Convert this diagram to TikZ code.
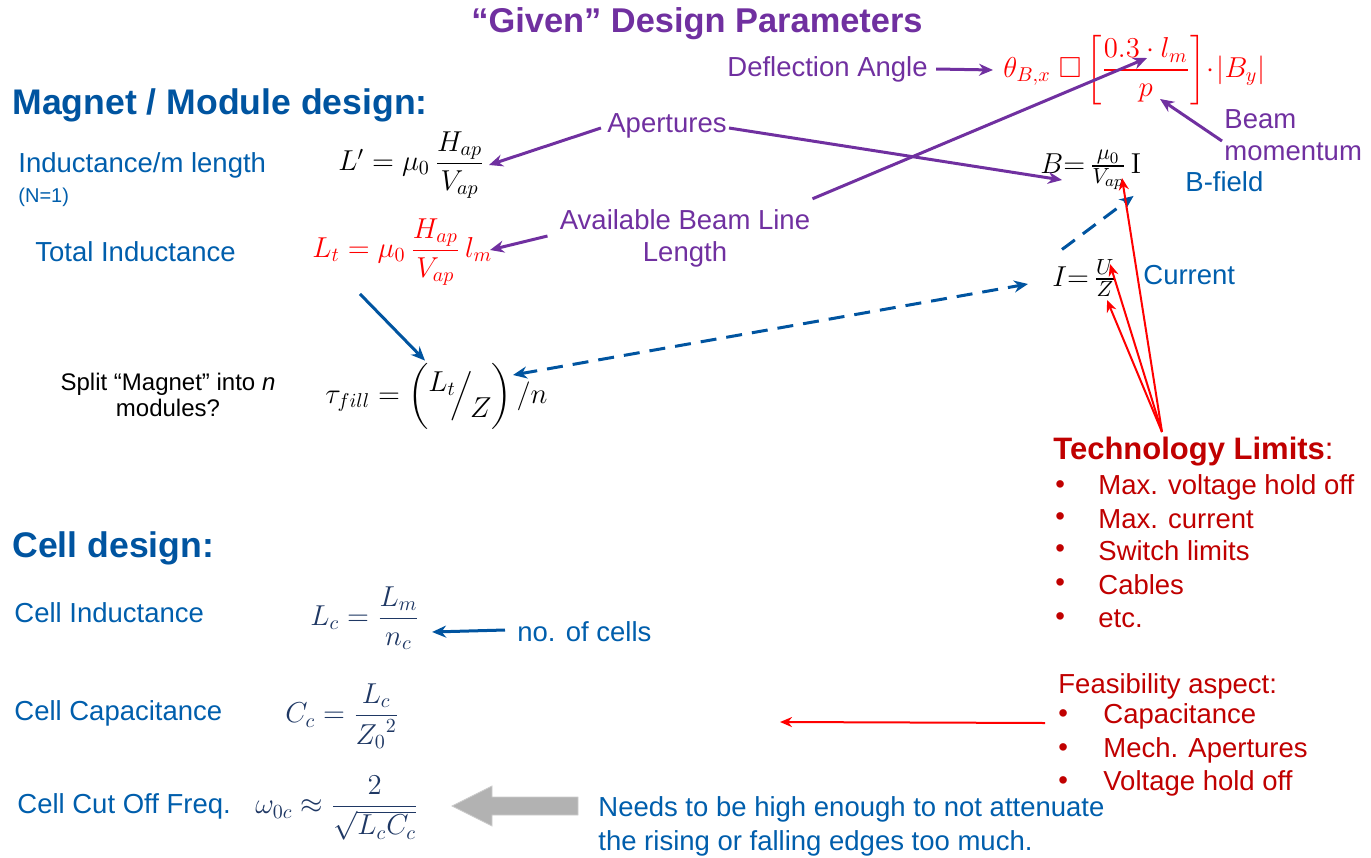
\documentclass[tikz,border=0pt]{standalone}
\usepackage{amsmath,amssymb}
\usepackage[no-math]{fontspec}
\setmainfont{Liberation Sans}
\usepackage{tikz}
\usetikzlibrary{arrows.meta,calc}

\definecolor{slideblue}{RGB}{0,94,172}
\definecolor{headblue}{RGB}{0,84,160}
\definecolor{givenpurple}{RGB}{112,48,160}
\definecolor{limitred}{RGB}{192,0,0}
\definecolor{formnavy}{RGB}{31,56,100}

\tikzset{
	txt/.style={inner sep=0pt, anchor=west, font=\fontsize{13.75}{16.5}\selectfont},
	small/.style={inner sep=0pt, anchor=west, font=\fontsize{10}{12}\selectfont},
	head/.style={inner sep=0pt, anchor=west, font=\fontsize{17.8}{21}\selectfont\bfseries, text=headblue},
	purparr/.style={-{Stealth[length=7pt,width=6pt]}, line width=1.5pt, draw=givenpurple},
	bluearr/.style={-{Stealth[length=7pt,width=6pt]}, line width=1.5pt, draw=headblue},
	dasharr/.style={{Stealth[length=7pt,width=6pt]}-{Stealth[length=7pt,width=6pt]}, line width=1.5pt, draw=headblue, dash pattern=on 8pt off 5pt},
	redarr/.style={-{Stealth[length=6pt,width=5pt]}, line width=1pt, draw=red},
}

\begin{document}
\begin{tikzpicture}[x=0.5pt,y=-0.5pt]
	\useasboundingbox (0,0) rectangle (1371,857);
	% Coordinates
	\coordinate (lmtip) at (1147,58);
	\coordinate (ptip) at (1160,99);
	\coordinate (lmtot) at (490,250);
	\coordinate (btip) at (1122,178);
	\coordinate (itip) at (1110,264);
	\coordinate (ztip) at (1107,300);
	\coordinate (tautip) at (513,375);
	\coordinate (techtop) at (1162,432);
	\coordinate (feastail) at (1045,723);
	\coordinate (feastip) at (780,722);
	% Header
	\node[inner sep=0pt, font=\fontsize{17.2}{20}\selectfont\bfseries, text=givenpurple] (given) at (697,24) {``Given'' Design Parameters};
	\node[txt, text=givenpurple] (defl) at (727,69) {Deflection Angle};
	\node[inner sep=0pt, anchor=west, text=red, font=\fontsize{14.5}{18}\selectfont] (theta) at (1003,70)
		{$\theta_{B,x}\ \square\left[\dfrac{0.3\cdot l_m}{p}\right]\!\cdot\!\left|B_y\right|$};
	\node[txt, text=givenpurple, align=left] (beam) at (1224,135) {Beam\\[-0.5pt]momentum};
	% Magnet / Module design
	\node[head] (magnet) at (12,105) {Magnet / Module design:};
	\node[txt, text=givenpurple, anchor=center] (apert) at (667,126) {Apertures};
	\node[txt, text=slideblue] (indm) at (18,165) {Inductance/m length};
	\node[small, text=slideblue] (nnote) at (18,197) {(N=1)};
	\node[txt] (lprime) at (338,165) {$L' = \mu_0\,\dfrac{H_{ap}}{V_{ap}}$};
	\node[txt, text=givenpurple, anchor=center, align=center] (avail) at (685,238) {Available Beam Line\\[-0.5pt]Length};
	\node[txt, text=slideblue] (totind) at (35,252) {Total Inductance};
	\node[txt, text=red] (ltot) at (312,252) {$L_t = \mu_0\,\dfrac{H_{ap}}{V_{ap}}\,l_m$};
	\node[txt, font=\fontsize{15.5}{18}\selectfont] (bform) at (1040,170) {$B{=}\,\frac{\mu_0}{V_{ap}}\,\mathrm{I}$};
	\node[txt, text=slideblue] (bfield) at (1185,182) {B-field};
	\node[txt, font=\fontsize{15.5}{18}\selectfont] (iform) at (1052,278) {$I{=}\,\frac{U}{Z}$};
	\node[txt, text=slideblue] (current) at (1143,275) {Current};
	\node[inner sep=0pt, align=center, font=\fontsize{12}{13}\selectfont] (split) at (168,395) {Split ``Magnet'' into \textit{n}\\modules?};
	\node[txt] (tau) at (325,396) {$\tau_{fill} = \left(\vphantom{\dfrac{L}{Z}}\raisebox{0.8ex}{$L_t$}\mkern-3mu\Big/\mkern-2mu\raisebox{-1.0ex}{$Z$}\right)/n$};
	% Technology limits
	\node[txt, text=limitred, font=\fontsize{15.5}{18}\selectfont] (techlim) at (1053,452) {\textbf{Technology Limits}:};
	\foreach \item/\yy in {Max. voltage hold off/487, Max. current/519, Switch limits/551, Cables/585, etc./619} {
		\node[txt, text=limitred] at (1055,\yy) {\textbullet};
		\node[txt, text=limitred] at (1098,\yy) {\item};
	}
	\node[txt, text=limitred] (feas) at (1058,686) {Feasibility aspect:};
	\foreach \item/\yy in {Capacitance/716, Mech. Apertures/750, Voltage hold off/783} {
		\node[txt, text=limitred] at (1058,\yy) {\textbullet};
		\node[txt, text=limitred] at (1103,\yy) {\item};
	}
	% Cell design
	\node[head] (cell) at (12,548) {Cell design:};
	\node[txt, text=slideblue] (cellind) at (14,613) {Cell Inductance};
	\node[txt, text=formnavy] (lc) at (310,618) {$L_c = \dfrac{L_m}{n_c}$};
	\node[txt, text=slideblue] (noc) at (517,632) {no. of cells};
	\node[txt, text=slideblue] (cellcap) at (14,713) {Cell Capacitance};
	\node[txt, text=formnavy] (cc) at (285,716) {$C_c = \dfrac{L_c}{{Z_0}^2}$};
	\node[txt, text=slideblue] (cellcut) at (17,806) {Cell Cut Off Freq.};
	\node[txt, text=formnavy] (omega) at (255,808) {$\omega_{0c} \approx \dfrac{2}{\sqrt{L_c C_c}}$};
	\node[txt, text=slideblue, align=left] (needs) at (598,826) {Needs to be high enough to not attenuate\\[0.5pt]the rising or falling edges too much.};
	% Arrows
	\draw[purparr] (defl.east) ++(8,0) -- ($(theta.west)+(-10,0)$);
	\draw[purparr] ($(apert.west)+(-6,2)$) -- ($(lprime.east)+(4,0)$);
	\draw[purparr] ($(apert.east)+(2,2)$) -- ($(bform.west)+(22,10)$);
	\draw[purparr] ($(avail.west)+(-12,-2)$) -- (lmtot);
	\draw[purparr] ($(avail.north east)+(2,-10)$) -- (lmtip);
	\draw[purparr] ($(beam.west)+(-2,6)$) -- (ptip);
	\draw[bluearr] ($(ltot.south west)+(48,8)$) -- ($(tau.north west)+(100,-2)$);
	\draw[dasharr] (tautip) -- ($(iform.west)+(-24,6)$);
	\draw[bluearr, dash pattern=on 8pt off 5pt] ($(iform.north west)+(10,-10)$) -- ($(bform.south east)+(-8,6)$);
	\foreach \tip in {btip, itip, ztip} {
		\draw[redarr] (techtop) -- (\tip);
	}
	\draw[redarr] (feastail) -- (feastip);
	\draw[bluearr] ($(noc.west)+(-12,-2)$) -- ($(lc.east)+(12,14)$);
	% Block arrow
	\fill[gray!60, draw=gray!40] (452,806) -- (492,786) -- (492,797) -- (578,797) -- (578,815) -- (492,815) -- (492,826) -- cycle;
\end{tikzpicture}
\end{document}
